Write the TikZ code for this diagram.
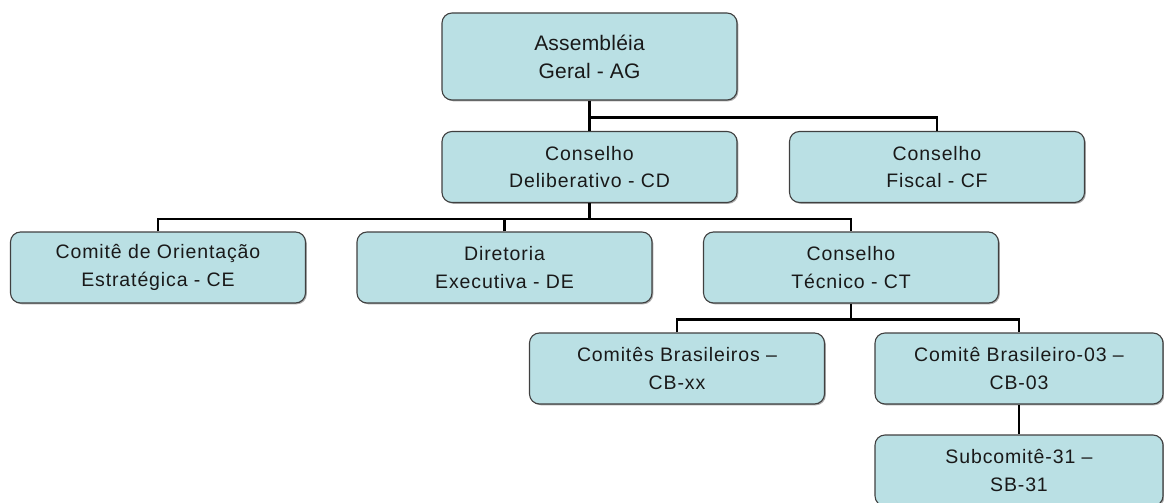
\documentclass[tikz,border=0pt]{standalone}
\usepackage{fontspec}
\setmainfont{Liberation Sans}[LetterSpace=4.5]
\usetikzlibrary{shadows}
\definecolor{boxfill}{RGB}{186,224,228}
\definecolor{boxline}{RGB}{64,64,64}
\tikzset{
  orgbox/.style={rectangle, rounded corners=10pt, draw=boxline, line width=1.1pt,
    fill=boxfill, minimum width=295pt, minimum height=71pt, inner sep=0pt,
    align=center, text=black!90, font=\fontsize{19.5}{27.3}\selectfont,
    drop shadow={shadow xshift=1.3pt, shadow yshift=-1.3pt, fill=black!55, opacity=0.6}},
  topbox/.style={orgbox, minimum height=87pt,
    font=\fontsize{21}{28}\selectfont\addfontfeature{LetterSpace=1}},
  link/.style={draw=black, line width=2.2pt}
}
\begin{document}
\begin{tikzpicture}[x=1pt,y=-1pt]
\useasboundingbox (0,0) rectangle (1164,503);
\clip (0,0) rectangle (1164,503);

% boxes
\node[topbox] (AG) at (589.5,56.5) {Assembléia\\Geral - AG};
\node[orgbox] (CD) at (589.5,167) {Conselho\\Deliberativo - CD};
\node[orgbox] (CF) at (937,167) {Conselho\\Fiscal - CF};
\node[orgbox] (CE) at (158,267.5) {Comitê de Orientação\\Estratégica - CE};
\node[orgbox] (DE) at (504.5,267.5) {Diretoria\\Executiva - DE};
\node[orgbox] (CT) at (851,267.5) {Conselho\\Técnico - CT};
\node[orgbox] (CBxx) at (677,368.5) {Comitês Brasileiros –\\CB-xx};
\node[orgbox, minimum width=288pt] (CB03) at (1019,368.5) {Comitê Brasileiro-03 –\\CB-03};
\node[orgbox, minimum width=288pt] (SB31) at (1019,470.5) {Subcomitê-31 –\\SB-31};

% connectors
\path (AG.south) ++(0,17) coordinate (j1);
\draw[link] (AG.south) -- (CD.north);
\draw[link] (j1) -| (CF.north);

\path (CD.south) ++(0,16) coordinate (j2);
\draw[link] (CD.south) -- (j2);
\draw[link] (CE.north) |- (j2) -| (CT.north);
\draw[link] (DE.north) -- (DE.north |- j2);

\path (CT.south) ++(0,16) coordinate (j3);
\draw[link] (CT.south) -- (j3);
\draw[link] (CBxx.north) |- (j3) -| (CB03.north);

\draw[link] (CB03.south) -- (SB31.north);
\end{tikzpicture}
\end{document}
